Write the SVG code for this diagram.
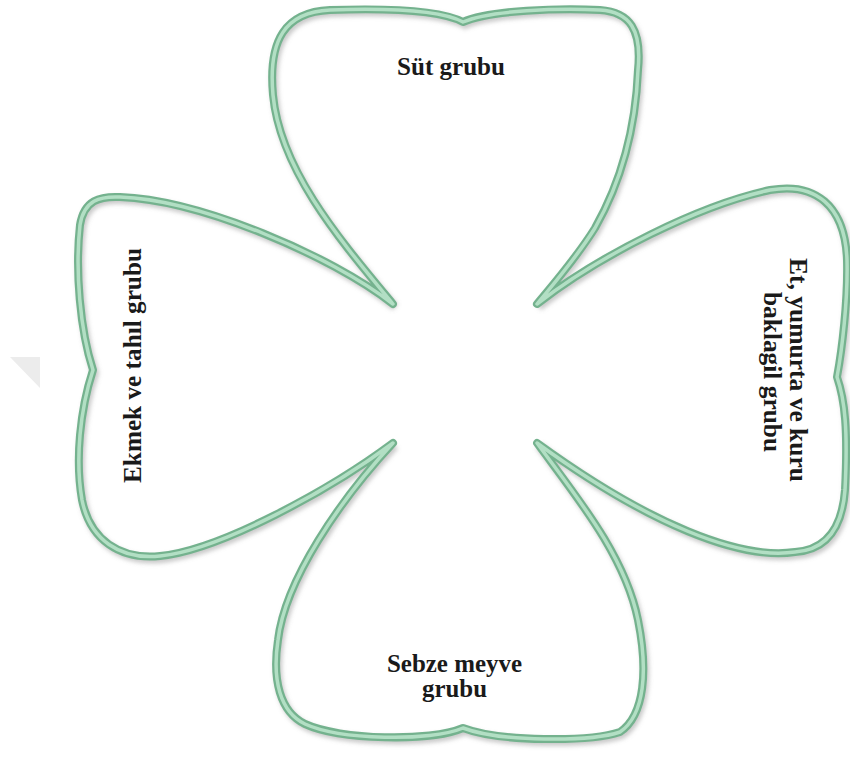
<svg xmlns="http://www.w3.org/2000/svg" xmlns:xlink="http://www.w3.org/1999/xlink" width="850" height="758" viewBox="0 0 850 758">
  <style>
    .lbl { font-family: "Liberation Serif", "Times New Roman", serif; font-weight: bold; font-size: 25px; fill: #1a1a1a; }
    .outer { fill: none; stroke: #74b28e; stroke-width: 8; stroke-linejoin: round; }
    .inner { fill: none; stroke: #b2dfc4; stroke-width: 3.5; stroke-linejoin: round; }
    .shadow { fill: none; stroke: #8a8a8a; stroke-width: 8; stroke-opacity: 0.45; }
  </style>
  <defs>
    <filter id="blur" x="-10%" y="-10%" width="120%" height="120%">
      <feGaussianBlur stdDeviation="2"/>
    </filter>
    <path id="outline" d="M393,304
      C 340,240 280,170 273,95
      C 268,40 285,12 330,10
      C 390,8 440,10 463,22
      C 490,10 560,8 600,10
      C 630,12 642,30 638,70
      C 636,120 625,175 595,228
      C 575,260 550,288 537,304
      C 600,255 700,205 770,190
      C 815,182 845,205 847,260
      C 848,300 842,350 837,377
      C 845,400 848,430 845,490
      C 842,530 825,550 795,552
      C 740,560 650,525 537,443
      C 575,495 625,555 638,620
      C 648,670 645,715 620,732
      C 590,742 500,742 463,728
      C 430,742 340,740 305,724
      C 280,712 272,680 278,640
      C 285,580 340,500 393,443
      C 330,490 220,550 160,556
      C 120,560 90,540 82,500
      C 75,460 80,410 93,370
      C 80,330 75,270 80,225
      C 84,200 100,196 120,197
      C 200,200 330,255 393,304 Z"/>
  </defs>
  <rect x="0" y="0" width="850" height="758" fill="#ffffff"/>
  <polygon points="10,357 40,357 40,388" fill="#ececec"/>
  <g id="clover">
    <use xlink:href="#outline" class="shadow" transform="translate(2,3)" filter="url(#blur)"/>
    <use xlink:href="#outline" class="outer"/>
    <use xlink:href="#outline" class="inner"/>
  </g>
  <g id="sut">
    <text class="lbl" x="397" y="75" textLength="108" lengthAdjust="spacingAndGlyphs">Süt grubu</text>
  </g>
  <g id="ekmek">
    <text class="lbl" transform="translate(141,483) rotate(-90)" textLength="235" lengthAdjust="spacingAndGlyphs">Ekmek ve tahıl grubu</text>
  </g>
  <g id="et">
    <text class="lbl" transform="translate(790,0) rotate(90)">
      <tspan x="258" y="0" textLength="224" lengthAdjust="spacingAndGlyphs">Et, yumurta ve kuru</tspan>
      <tspan x="292" y="26" textLength="160" lengthAdjust="spacingAndGlyphs">baklagil grubu</tspan>
    </text>
  </g>
  <g id="sebze">
    <text class="lbl">
      <tspan x="387" y="672" textLength="135" lengthAdjust="spacingAndGlyphs">Sebze meyve</tspan>
      <tspan x="422" y="697" textLength="65" lengthAdjust="spacingAndGlyphs">grubu</tspan>
    </text>
  </g>
</svg>
